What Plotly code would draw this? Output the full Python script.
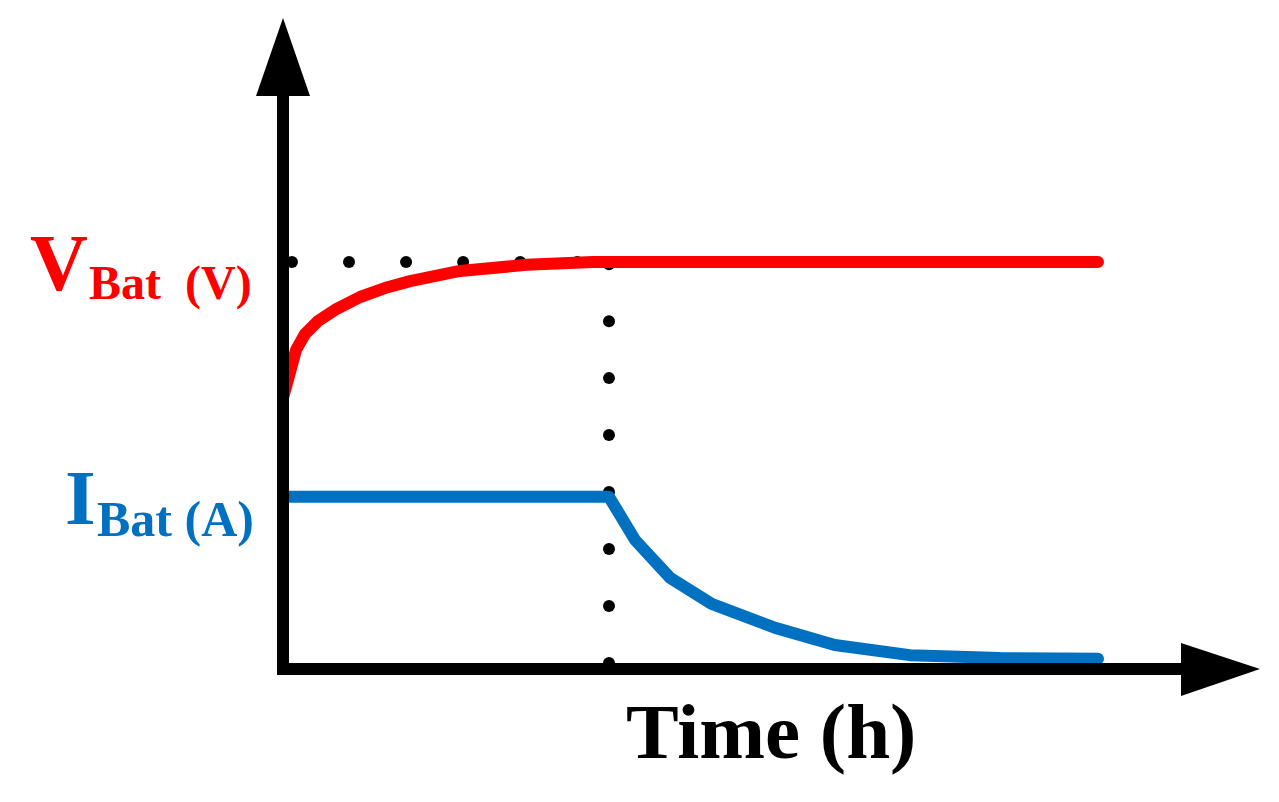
import numpy as np
import plotly.graph_objects as go

# CC-CV charging profile (arbitrary units)
time_v = [0.0, 0.074, 0.16, 0.27, 0.43, 0.66, 0.945, 1.25, 1.56, 2.17, 2.99, 3.80, 4.0, 10.0]
v_bat = [6.66, 7.37, 7.84, 8.23, 8.55, 8.85, 9.14, 9.36, 9.53, 9.78, 9.93, 10.0, 10.0, 10.0]

time_i = [0.0, 4.0, 4.32, 4.75, 5.26, 6.04, 6.77, 7.69, 8.80, 10.0]
i_bat = [4.23, 4.23, 3.17, 2.24, 1.60, 1.01, 0.59, 0.34, 0.27, 0.25]

t_cv = 4.0      # switch from constant current to constant voltage
v_max = 10.0    # voltage limit
dot_step_x = 0.7
dot_step_y = 1.4

W, H = 1279, 802
PX_X, PX_Y = 81.5, 40.7      # pixels per unit
X0_PX, Y0_PX = 283, 669      # origin in pixels

RED = '#FF0000'
BLUE = '#0070C0'
FONT = 'Liberation Serif'


def px(xp, yp):
    # pixel position -> data coordinates
    return (xp - X0_PX) / PX_X, (Y0_PX - yp) / PX_Y


def paper(xp, yp):
    return xp / W, 1 - yp / H


fig = go.Figure()

# dotted guides
hx = np.arange(0.11, t_cv, dot_step_x)
vy = np.arange(0.147, v_max + 0.1, dot_step_y)
fig.add_trace(go.Scatter(
    x=list(hx) + [t_cv] * len(vy),
    y=[v_max] * len(hx) + list(vy),
    mode='markers',
    marker=dict(size=12, color='black'),
    hoverinfo='skip'
))

fig.add_trace(go.Scatter(
    x=time_v, y=v_bat, mode='lines',
    line=dict(color=RED, width=12),
    name='V_Bat'
))
fig.add_trace(go.Scatter(
    x=time_i, y=i_bat, mode='lines',
    line=dict(color=BLUE, width=12),
    name='I_Bat'
))

# axes with arrowheads
shapes = []
ax0, ay_bot = px(283, 675)
_, ay_top = px(283, 90)
shapes.append(dict(type='line', xref='x', yref='y', x0=0, x1=0, y0=ay_bot, y1=ay_top,
                   line=dict(color='black', width=12), layer='above'))
bx0, _ = px(277, 669)
bx1, _ = px(1190, 669)
shapes.append(dict(type='line', xref='x', yref='y', x0=bx0, x1=bx1, y0=0, y1=0,
                   line=dict(color='black', width=12), layer='above'))


def tri(p1, p2, p3):
    pts = [px(*p) for p in (p1, p2, p3)]
    return 'M {} {} L {} {} L {} {} Z'.format(*[c for pt in pts for c in pt])


shapes.append(dict(type='path', xref='x', yref='y', path=tri((283, 18), (256, 96), (310, 96)),
                   fillcolor='black', line=dict(width=0), layer='above'))
shapes.append(dict(type='path', xref='x', yref='y', path=tri((1260, 669), (1181, 643), (1181, 696)),
                   fillcolor='black', line=dict(width=0), layer='above'))

annotations = []


def label(text, xp, yp, size, color, xanchor='left'):
    xx, yy = paper(xp, yp)
    annotations.append(dict(text=text, x=xx, y=yy, xref='paper', yref='paper',
                            xanchor=xanchor, yanchor='middle', showarrow=False,
                            font=dict(family=FONT, size=size, color=color, weight='bold')))


label('V', 28, 263, 80, RED)
label('Bat  (V)', 87, 283, 48, RED)
label('I', 63, 498, 79, BLUE)
label('Bat (A)', 95, 519, 50, BLUE)
label('Time (h)', 771, 731, 79, 'black', xanchor='center')

fig.update_layout(
    width=W, height=H,
    margin=dict(l=0, r=0, t=0, b=0),
    paper_bgcolor='white', plot_bgcolor='white',
    showlegend=False,
    shapes=shapes,
    annotations=annotations,
    xaxis=dict(range=[-X0_PX / PX_X, (W - X0_PX) / PX_X], visible=False, fixedrange=True),
    yaxis=dict(range=[-(H - Y0_PX) / PX_Y, Y0_PX / PX_Y], visible=False, fixedrange=True),
)

# round ends and joins on the curves, like the drawing
post = """
document.body.style.margin='0';
document.querySelectorAll('.scatterlayer .js-line').forEach(function(p){
  p.style.strokeLinecap='round'; p.style.strokeLinejoin='round';
});
"""
fig.write_html('out.html', config={'displayModeBar': False}, post_script=post)
